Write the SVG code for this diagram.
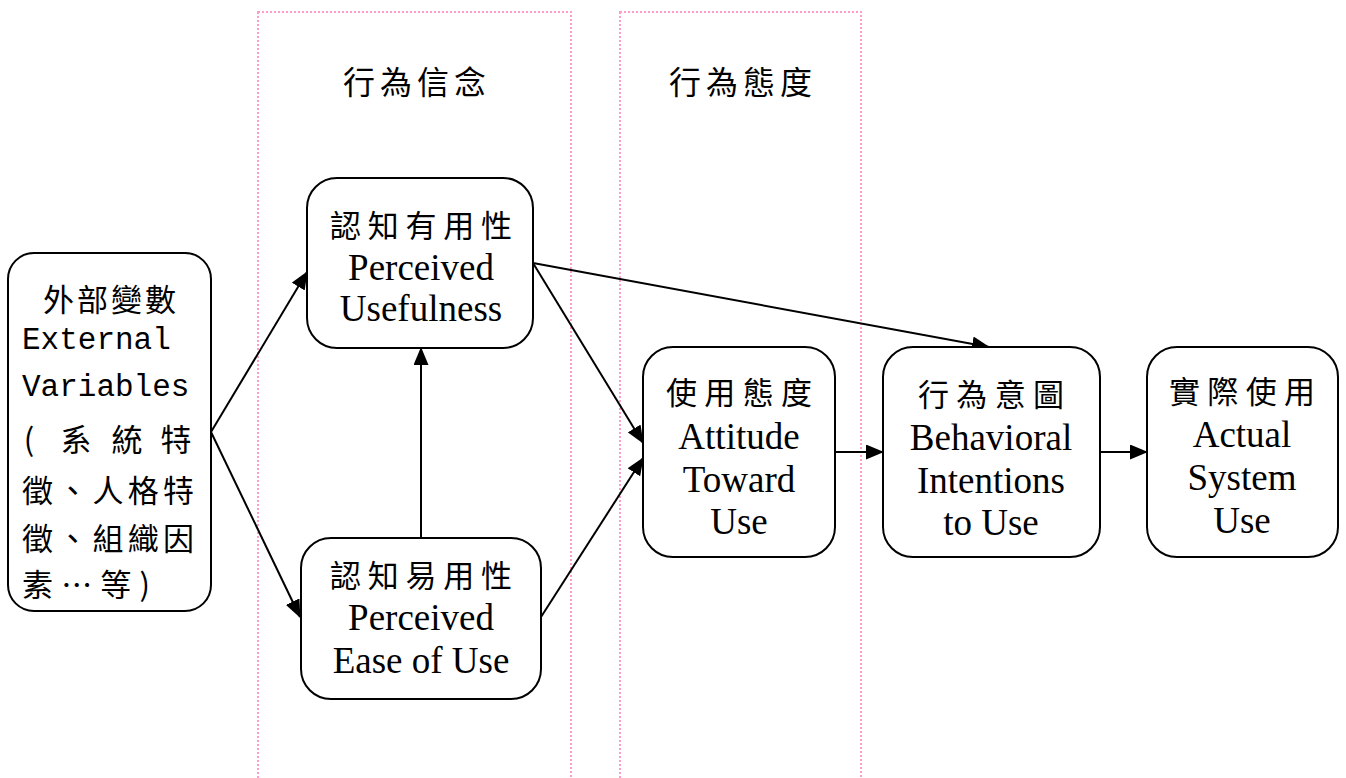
<svg xmlns="http://www.w3.org/2000/svg" width="1346" height="778" viewBox="0 0 1346 778">
<style>
.band{fill:none;stroke:#ff9ccc;stroke-width:2;stroke-dasharray:2 2}
.node{fill:#fff;stroke:#000;stroke-width:2}
.cjk{font-family:"Noto Sans CJK TC","Noto Sans CJK SC",sans-serif;font-size:31px;fill:#000;text-anchor:middle;dominant-baseline:central}
.lat{font-family:"Liberation Serif","Times New Roman",serif;font-size:37px;fill:#000;text-anchor:middle;dominant-baseline:central}
.mono{font-family:"Liberation Mono","Courier New",monospace;font-size:31px;fill:#000;dominant-baseline:central}
.title{font-family:"Noto Sans CJK TC","Noto Sans CJK SC",sans-serif;font-size:32px;fill:#000;text-anchor:middle;dominant-baseline:central;letter-spacing:5px}
.edge{fill:none;stroke:#000;stroke-width:2}
</style>
<defs>
<marker id="arr" markerUnits="userSpaceOnUse" markerWidth="18" markerHeight="15" viewBox="0 0 18 15" refX="17" refY="7.5" orient="auto">
<path d="M0,0 L18,7.5 L0,15 Z" fill="#000"/>
</marker>
</defs>
<rect width="1346" height="778" fill="#fff"/>
<g id="band-belief">
<rect class="band" x="258" y="12" width="313" height="800"/>
<text class="title" x="417" y="80">行為信念</text>
</g>
<g id="band-attitude">
<rect class="band" x="620" y="12" width="241" height="800"/>
<text class="title" x="743" y="80">行為態度</text>
</g>
<g id="connectors">
<line class="edge" x1="211" y1="432" x2="307" y2="272" marker-end="url(#arr)"/>
<line class="edge" x1="211" y1="432" x2="300" y2="617" marker-end="url(#arr)"/>
<line class="edge" x1="421" y1="538" x2="421" y2="348" marker-end="url(#arr)"/>
<line class="edge" x1="533" y1="263" x2="989" y2="347" marker-end="url(#arr)"/>
<line class="edge" x1="533" y1="263" x2="643" y2="443" marker-end="url(#arr)"/>
<line class="edge" x1="541" y1="617" x2="643" y2="458" marker-end="url(#arr)"/>
<line class="edge" x1="835" y1="452" x2="883" y2="452" marker-end="url(#arr)"/>
<line class="edge" x1="1100" y1="452" x2="1147" y2="452" marker-end="url(#arr)"/>
</g>
<g id="external">
<rect class="node" x="8" y="253" width="203" height="358" rx="26"/>
<text class="cjk" x="111" y="297" font-size="34" letter-spacing="3">外部變數</text>
<text class="mono" x="22" y="340">External</text>
<text class="mono" x="22" y="387">Variables</text>
<text class="cjk" x="29" y="437" font-size="34">(</text>
<text class="cjk" x="76" y="437" font-size="34">系</text>
<text class="cjk" x="127" y="437" font-size="34">統</text>
<text class="cjk" x="176" y="437" font-size="34">特</text>
<text class="cjk" x="22" y="488" font-size="34" style="text-anchor:start" textLength="172" lengthAdjust="spacing">徵、人格特</text>
<text class="cjk" x="22" y="536" font-size="34" style="text-anchor:start" textLength="172" lengthAdjust="spacing">徵、組織因</text>
<text class="cjk" x="22" y="582" font-size="34" style="text-anchor:start" textLength="128" lengthAdjust="spacing">素…等)</text>
</g>
<g id="usefulness">
<rect class="node" x="307" y="178" width="226" height="170" rx="30"/>
<text class="cjk" x="421" y="223" textLength="182" lengthAdjust="spacing">認知有用性</text>
<text class="lat" x="421" y="267">Perceived</text>
<text class="lat" x="421" y="308">Usefulness</text>
</g>
<g id="ease">
<rect class="node" x="301" y="538" width="240" height="161" rx="30"/>
<text class="cjk" x="421" y="573" textLength="182" lengthAdjust="spacing">認知易用性</text>
<text class="lat" x="421" y="617">Perceived</text>
<text class="lat" x="421" y="660">Ease of Use</text>
</g>
<g id="attitude">
<rect class="node" x="643" y="347" width="192" height="210" rx="30"/>
<text class="cjk" x="739" y="390" textLength="146" lengthAdjust="spacing">使用態度</text>
<text class="lat" x="739" y="436">Attitude</text>
<text class="lat" x="739" y="479">Toward</text>
<text class="lat" x="739" y="521">Use</text>
</g>
<g id="intention">
<rect class="node" x="883" y="347" width="217" height="210" rx="30"/>
<text class="cjk" x="991" y="392" textLength="146" lengthAdjust="spacing">行為意圖</text>
<text class="lat" x="991" y="437">Behavioral</text>
<text class="lat" x="991" y="480">Intentions</text>
<text class="lat" x="991" y="522">to Use</text>
</g>
<g id="actual">
<rect class="node" x="1147" y="347" width="191" height="210" rx="30"/>
<text class="cjk" x="1242" y="389" textLength="146" lengthAdjust="spacing">實際使用</text>
<text class="lat" x="1242" y="434">Actual</text>
<text class="lat" x="1242" y="477">System</text>
<text class="lat" x="1242" y="520">Use</text>
</g>
</svg>
